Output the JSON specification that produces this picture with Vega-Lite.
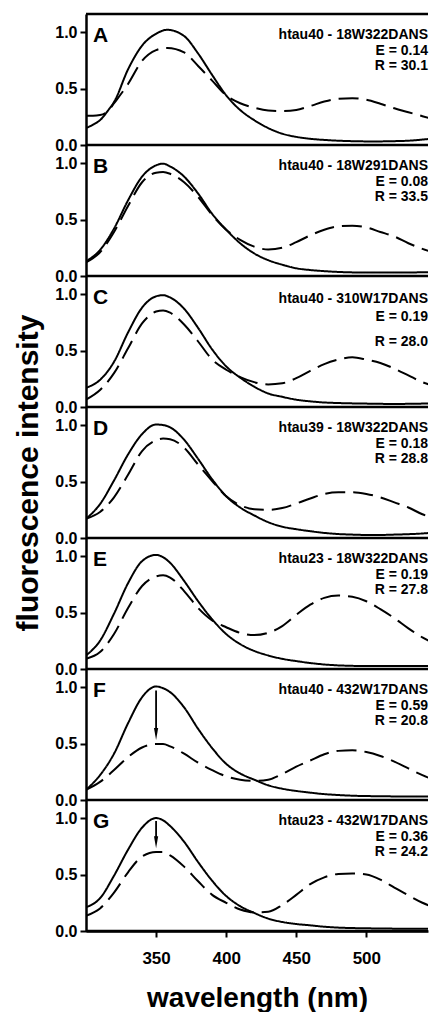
{
  "$schema": "https://vega.github.io/schema/vega-lite/v6.json",
  "padding": {"left": 13, "top": 12, "right": 0, "bottom": 0},
  "config": {
    "font": "Liberation Sans",
    "view": {"stroke": null},
    "axis": {"grid": false, "domainWidth": 2.5, "domainColor": "black", "tickColor": "black", "tickWidth": 2, "tickSize": 6, "labelFontSize": 16, "labelFontWeight": "bold", "labelColor": "black", "titleFontWeight": "bold", "titleColor": "black"},
    "axisY": {"labelPadding": 3, "titleFontSize": 30, "titlePadding": 11},
    "axisX": {"labelPadding": 13, "labelFontSize": 17, "titleFontSize": 28, "titlePadding": 18}
  },
  "data": {"values": [
    {"k":"a","p":"A","L":"A","t1":"htau40 - 18W322DANS","t2":"E = 0.14","t3":"R = 30.1"},
    {"k":"a","p":"B","L":"B","t1":"htau40 - 18W291DANS","t2":"E = 0.08","t3":"R = 33.5"},
    {"k":"a","p":"C","L":"C","t1":"htau40 - 310W17DANS","t2":"E = 0.19","t3":"R = 28.0"},
    {"k":"a","p":"D","L":"D","t1":"htau39 - 18W322DANS","t2":"E = 0.18","t3":"R = 28.8"},
    {"k":"a","p":"E","L":"E","t1":"htau23 - 18W322DANS","t2":"E = 0.19","t3":"R = 27.8"},
    {"k":"a","p":"F","L":"F","t1":"htau40 - 432W17DANS","t2":"E = 0.59","t3":"R = 20.8"},
    {"k":"a","p":"G","L":"G","t1":"htau23 - 432W17DANS","t2":"E = 0.36","t3":"R = 24.2"},
    {"k":"r","p":"F","x":350,"y1":0.97,"y2":0.585},
    {"k":"r","p":"G","x":350,"y1":0.975,"y2":0.785},

    {"k":"c","p":"A","x":300,"solid":0.15,"dashed":0.26},
    {"k":"c","p":"A","x":305,"solid":0.18,"dashed":0.26},
    {"k":"c","p":"A","x":310,"solid":0.22,"dashed":0.265},
    {"k":"c","p":"A","x":316,"solid":0.31,"dashed":0.305},
    {"k":"c","p":"A","x":320,"solid":0.38,"dashed":0.37},
    {"k":"c","p":"A","x":330,"solid":0.67,"dashed":0.54},
    {"k":"c","p":"A","x":340,"solid":0.88,"dashed":0.745},
    {"k":"c","p":"A","x":350,"solid":0.985,"dashed":0.84},
    {"k":"c","p":"A","x":358,"solid":1.02,"dashed":0.86},
    {"k":"c","p":"A","x":370,"solid":0.965,"dashed":0.82},
    {"k":"c","p":"A","x":380,"solid":0.81,"dashed":0.70},
    {"k":"c","p":"A","x":390,"solid":0.62,"dashed":0.57},
    {"k":"c","p":"A","x":400,"solid":0.44,"dashed":0.44},
    {"k":"c","p":"A","x":410,"solid":0.31,"dashed":0.37},
    {"k":"c","p":"A","x":420,"solid":0.22,"dashed":0.33},
    {"k":"c","p":"A","x":430,"solid":0.15,"dashed":0.305},
    {"k":"c","p":"A","x":440,"solid":0.10,"dashed":0.30},
    {"k":"c","p":"A","x":450,"solid":0.072,"dashed":0.31},
    {"k":"c","p":"A","x":460,"solid":0.055,"dashed":0.345},
    {"k":"c","p":"A","x":470,"solid":0.045,"dashed":0.385},
    {"k":"c","p":"A","x":480,"solid":0.038,"dashed":0.41},
    {"k":"c","p":"A","x":490,"solid":0.034,"dashed":0.415},
    {"k":"c","p":"A","x":500,"solid":0.032,"dashed":0.40},
    {"k":"c","p":"A","x":510,"solid":0.032,"dashed":0.365},
    {"k":"c","p":"A","x":520,"solid":0.034,"dashed":0.325},
    {"k":"c","p":"A","x":530,"solid":0.038,"dashed":0.29},
    {"k":"c","p":"A","x":540,"solid":0.048,"dashed":0.255},
    {"k":"c","p":"A","x":550,"solid":0.06,"dashed":0.22},

    {"k":"c","p":"B","x":300,"solid":0.13,"dashed":0.12},
    {"k":"c","p":"B","x":310,"solid":0.23,"dashed":0.21},
    {"k":"c","p":"B","x":320,"solid":0.42,"dashed":0.39},
    {"k":"c","p":"B","x":330,"solid":0.67,"dashed":0.62},
    {"k":"c","p":"B","x":340,"solid":0.88,"dashed":0.83},
    {"k":"c","p":"B","x":350,"solid":0.98,"dashed":0.915},
    {"k":"c","p":"B","x":355,"solid":0.995,"dashed":0.92},
    {"k":"c","p":"B","x":360,"solid":0.97,"dashed":0.905},
    {"k":"c","p":"B","x":370,"solid":0.88,"dashed":0.83},
    {"k":"c","p":"B","x":380,"solid":0.73,"dashed":0.70},
    {"k":"c","p":"B","x":390,"solid":0.55,"dashed":0.54},
    {"k":"c","p":"B","x":400,"solid":0.41,"dashed":0.41},
    {"k":"c","p":"B","x":410,"solid":0.29,"dashed":0.32},
    {"k":"c","p":"B","x":420,"solid":0.20,"dashed":0.26},
    {"k":"c","p":"B","x":430,"solid":0.14,"dashed":0.235},
    {"k":"c","p":"B","x":440,"solid":0.10,"dashed":0.25},
    {"k":"c","p":"B","x":450,"solid":0.068,"dashed":0.30},
    {"k":"c","p":"B","x":460,"solid":0.053,"dashed":0.36},
    {"k":"c","p":"B","x":470,"solid":0.043,"dashed":0.41},
    {"k":"c","p":"B","x":480,"solid":0.036,"dashed":0.44},
    {"k":"c","p":"B","x":490,"solid":0.032,"dashed":0.445},
    {"k":"c","p":"B","x":500,"solid":0.03,"dashed":0.43},
    {"k":"c","p":"B","x":510,"solid":0.03,"dashed":0.39},
    {"k":"c","p":"B","x":520,"solid":0.03,"dashed":0.35},
    {"k":"c","p":"B","x":530,"solid":0.031,"dashed":0.29},
    {"k":"c","p":"B","x":540,"solid":0.033,"dashed":0.24},
    {"k":"c","p":"B","x":550,"solid":0.036,"dashed":0.20},

    {"k":"c","p":"C","x":300,"solid":0.17,"dashed":0.065},
    {"k":"c","p":"C","x":310,"solid":0.24,"dashed":0.15},
    {"k":"c","p":"C","x":320,"solid":0.40,"dashed":0.30},
    {"k":"c","p":"C","x":330,"solid":0.66,"dashed":0.52},
    {"k":"c","p":"C","x":340,"solid":0.88,"dashed":0.74},
    {"k":"c","p":"C","x":350,"solid":0.98,"dashed":0.845},
    {"k":"c","p":"C","x":355,"solid":0.99,"dashed":0.855},
    {"k":"c","p":"C","x":360,"solid":0.97,"dashed":0.835},
    {"k":"c","p":"C","x":370,"solid":0.87,"dashed":0.73},
    {"k":"c","p":"C","x":380,"solid":0.70,"dashed":0.58},
    {"k":"c","p":"C","x":390,"solid":0.51,"dashed":0.42},
    {"k":"c","p":"C","x":400,"solid":0.36,"dashed":0.33},
    {"k":"c","p":"C","x":410,"solid":0.26,"dashed":0.265},
    {"k":"c","p":"C","x":420,"solid":0.18,"dashed":0.22},
    {"k":"c","p":"C","x":430,"solid":0.12,"dashed":0.20},
    {"k":"c","p":"C","x":440,"solid":0.09,"dashed":0.21},
    {"k":"c","p":"C","x":450,"solid":0.065,"dashed":0.255},
    {"k":"c","p":"C","x":460,"solid":0.05,"dashed":0.32},
    {"k":"c","p":"C","x":470,"solid":0.04,"dashed":0.38},
    {"k":"c","p":"C","x":480,"solid":0.035,"dashed":0.42},
    {"k":"c","p":"C","x":490,"solid":0.032,"dashed":0.44},
    {"k":"c","p":"C","x":500,"solid":0.03,"dashed":0.42},
    {"k":"c","p":"C","x":510,"solid":0.028,"dashed":0.39},
    {"k":"c","p":"C","x":520,"solid":0.027,"dashed":0.34},
    {"k":"c","p":"C","x":530,"solid":0.028,"dashed":0.28},
    {"k":"c","p":"C","x":540,"solid":0.03,"dashed":0.22},
    {"k":"c","p":"C","x":550,"solid":0.032,"dashed":0.18},

    {"k":"c","p":"D","x":300,"solid":0.17,"dashed":0.17},
    {"k":"c","p":"D","x":310,"solid":0.30,"dashed":0.23},
    {"k":"c","p":"D","x":320,"solid":0.51,"dashed":0.36},
    {"k":"c","p":"D","x":330,"solid":0.74,"dashed":0.56},
    {"k":"c","p":"D","x":340,"solid":0.92,"dashed":0.77},
    {"k":"c","p":"D","x":350,"solid":1.005,"dashed":0.865},
    {"k":"c","p":"D","x":355,"solid":1.0,"dashed":0.88},
    {"k":"c","p":"D","x":360,"solid":0.98,"dashed":0.875},
    {"k":"c","p":"D","x":370,"solid":0.87,"dashed":0.80},
    {"k":"c","p":"D","x":380,"solid":0.70,"dashed":0.65},
    {"k":"c","p":"D","x":390,"solid":0.52,"dashed":0.505},
    {"k":"c","p":"D","x":400,"solid":0.37,"dashed":0.37},
    {"k":"c","p":"D","x":410,"solid":0.27,"dashed":0.29},
    {"k":"c","p":"D","x":420,"solid":0.20,"dashed":0.255},
    {"k":"c","p":"D","x":430,"solid":0.14,"dashed":0.25},
    {"k":"c","p":"D","x":440,"solid":0.10,"dashed":0.265},
    {"k":"c","p":"D","x":450,"solid":0.078,"dashed":0.305},
    {"k":"c","p":"D","x":460,"solid":0.06,"dashed":0.35},
    {"k":"c","p":"D","x":470,"solid":0.045,"dashed":0.39},
    {"k":"c","p":"D","x":480,"solid":0.035,"dashed":0.405},
    {"k":"c","p":"D","x":490,"solid":0.03,"dashed":0.405},
    {"k":"c","p":"D","x":500,"solid":0.027,"dashed":0.39},
    {"k":"c","p":"D","x":510,"solid":0.027,"dashed":0.36},
    {"k":"c","p":"D","x":520,"solid":0.03,"dashed":0.315},
    {"k":"c","p":"D","x":530,"solid":0.034,"dashed":0.27},
    {"k":"c","p":"D","x":540,"solid":0.04,"dashed":0.21},
    {"k":"c","p":"D","x":550,"solid":0.05,"dashed":0.17},

    {"k":"c","p":"E","x":300,"solid":0.12,"dashed":0.09},
    {"k":"c","p":"E","x":310,"solid":0.25,"dashed":0.15},
    {"k":"c","p":"E","x":320,"solid":0.49,"dashed":0.31},
    {"k":"c","p":"E","x":330,"solid":0.76,"dashed":0.54},
    {"k":"c","p":"E","x":340,"solid":0.955,"dashed":0.735},
    {"k":"c","p":"E","x":350,"solid":1.01,"dashed":0.82},
    {"k":"c","p":"E","x":355,"solid":0.99,"dashed":0.83},
    {"k":"c","p":"E","x":360,"solid":0.94,"dashed":0.81},
    {"k":"c","p":"E","x":370,"solid":0.78,"dashed":0.69},
    {"k":"c","p":"E","x":380,"solid":0.60,"dashed":0.54},
    {"k":"c","p":"E","x":390,"solid":0.44,"dashed":0.43},
    {"k":"c","p":"E","x":400,"solid":0.31,"dashed":0.37},
    {"k":"c","p":"E","x":410,"solid":0.22,"dashed":0.32},
    {"k":"c","p":"E","x":420,"solid":0.16,"dashed":0.30},
    {"k":"c","p":"E","x":430,"solid":0.12,"dashed":0.32},
    {"k":"c","p":"E","x":440,"solid":0.09,"dashed":0.38},
    {"k":"c","p":"E","x":450,"solid":0.07,"dashed":0.48},
    {"k":"c","p":"E","x":460,"solid":0.053,"dashed":0.57},
    {"k":"c","p":"E","x":470,"solid":0.04,"dashed":0.63},
    {"k":"c","p":"E","x":480,"solid":0.032,"dashed":0.65},
    {"k":"c","p":"E","x":490,"solid":0.028,"dashed":0.64},
    {"k":"c","p":"E","x":500,"solid":0.026,"dashed":0.60},
    {"k":"c","p":"E","x":510,"solid":0.026,"dashed":0.53},
    {"k":"c","p":"E","x":520,"solid":0.026,"dashed":0.45},
    {"k":"c","p":"E","x":530,"solid":0.026,"dashed":0.36},
    {"k":"c","p":"E","x":540,"solid":0.026,"dashed":0.28},
    {"k":"c","p":"E","x":550,"solid":0.026,"dashed":0.22},

    {"k":"c","p":"F","x":300,"solid":0.09,"dashed":0.09},
    {"k":"c","p":"F","x":310,"solid":0.22,"dashed":0.16},
    {"k":"c","p":"F","x":320,"solid":0.41,"dashed":0.265},
    {"k":"c","p":"F","x":330,"solid":0.68,"dashed":0.38},
    {"k":"c","p":"F","x":340,"solid":0.91,"dashed":0.465},
    {"k":"c","p":"F","x":350,"solid":1.005,"dashed":0.495},
    {"k":"c","p":"F","x":355,"solid":0.99,"dashed":0.495},
    {"k":"c","p":"F","x":360,"solid":0.955,"dashed":0.475},
    {"k":"c","p":"F","x":370,"solid":0.82,"dashed":0.41},
    {"k":"c","p":"F","x":380,"solid":0.63,"dashed":0.33},
    {"k":"c","p":"F","x":390,"solid":0.46,"dashed":0.265},
    {"k":"c","p":"F","x":400,"solid":0.32,"dashed":0.21},
    {"k":"c","p":"F","x":410,"solid":0.235,"dashed":0.18},
    {"k":"c","p":"F","x":420,"solid":0.18,"dashed":0.17},
    {"k":"c","p":"F","x":430,"solid":0.13,"dashed":0.18},
    {"k":"c","p":"F","x":440,"solid":0.10,"dashed":0.23},
    {"k":"c","p":"F","x":450,"solid":0.08,"dashed":0.295},
    {"k":"c","p":"F","x":460,"solid":0.065,"dashed":0.35},
    {"k":"c","p":"F","x":470,"solid":0.052,"dashed":0.405},
    {"k":"c","p":"F","x":480,"solid":0.044,"dashed":0.435},
    {"k":"c","p":"F","x":490,"solid":0.038,"dashed":0.44},
    {"k":"c","p":"F","x":500,"solid":0.035,"dashed":0.425},
    {"k":"c","p":"F","x":510,"solid":0.033,"dashed":0.39},
    {"k":"c","p":"F","x":520,"solid":0.032,"dashed":0.34},
    {"k":"c","p":"F","x":530,"solid":0.032,"dashed":0.28},
    {"k":"c","p":"F","x":540,"solid":0.032,"dashed":0.22},
    {"k":"c","p":"F","x":550,"solid":0.032,"dashed":0.17},

    {"k":"c","p":"G","x":300,"solid":0.21,"dashed":0.135},
    {"k":"c","p":"G","x":310,"solid":0.29,"dashed":0.20},
    {"k":"c","p":"G","x":320,"solid":0.49,"dashed":0.34},
    {"k":"c","p":"G","x":330,"solid":0.72,"dashed":0.52},
    {"k":"c","p":"G","x":340,"solid":0.915,"dashed":0.66},
    {"k":"c","p":"G","x":350,"solid":1.0,"dashed":0.70},
    {"k":"c","p":"G","x":355,"solid":0.98,"dashed":0.70},
    {"k":"c","p":"G","x":360,"solid":0.93,"dashed":0.67},
    {"k":"c","p":"G","x":370,"solid":0.79,"dashed":0.57},
    {"k":"c","p":"G","x":380,"solid":0.61,"dashed":0.44},
    {"k":"c","p":"G","x":390,"solid":0.445,"dashed":0.32},
    {"k":"c","p":"G","x":400,"solid":0.31,"dashed":0.25},
    {"k":"c","p":"G","x":410,"solid":0.22,"dashed":0.19},
    {"k":"c","p":"G","x":420,"solid":0.16,"dashed":0.165},
    {"k":"c","p":"G","x":430,"solid":0.11,"dashed":0.17},
    {"k":"c","p":"G","x":440,"solid":0.08,"dashed":0.23},
    {"k":"c","p":"G","x":450,"solid":0.062,"dashed":0.32},
    {"k":"c","p":"G","x":460,"solid":0.05,"dashed":0.415},
    {"k":"c","p":"G","x":470,"solid":0.038,"dashed":0.475},
    {"k":"c","p":"G","x":480,"solid":0.03,"dashed":0.505},
    {"k":"c","p":"G","x":490,"solid":0.026,"dashed":0.51},
    {"k":"c","p":"G","x":500,"solid":0.024,"dashed":0.50},
    {"k":"c","p":"G","x":510,"solid":0.022,"dashed":0.455},
    {"k":"c","p":"G","x":520,"solid":0.021,"dashed":0.385},
    {"k":"c","p":"G","x":530,"solid":0.021,"dashed":0.315},
    {"k":"c","p":"G","x":540,"solid":0.021,"dashed":0.25},
    {"k":"c","p":"G","x":550,"solid":0.021,"dashed":0.20}
  ]},
  "spacing": 0,
  "bounds": "flush",
  "vconcat": [
    {
      "width": 342, "height": 131,
      "transform": [{"filter": "datum.p === 'A'"}],
      "encoding": {
        "x": {"type": "quantitative", "scale": {"domain": [300, 544], "nice": false, "zero": false}, "axis": null},
        "y": {"type": "quantitative", "scale": {"domain": [0, 1.16], "nice": false}, "axis": {"values": [0, 0.5, 1], "format": ".1f", "title": null}}
      },
      "layer": [
        {"transform": [{"filter": "datum.k === 'c'"}, {"fold": ["solid", "dashed"], "as": ["s", "v"]}], "mark": {"type": "line", "interpolate": "monotone", "clip": true, "color": "black", "strokeWidth": 2}, "encoding": {"x": {"field": "x"}, "y": {"field": "v"}, "strokeDash": {"field": "s", "type": "nominal", "scale": {"domain": ["solid", "dashed"], "range": [[1, 0], [20, 8]]}, "legend": null}}},
        {"transform": [{"filter": "datum.k === 'a'"}], "mark": {"type": "rule", "color": "black", "strokeWidth": 2.5}, "encoding": {"y": {"datum": 0}}},
        {"transform": [{"filter": "datum.k === 'a'"}], "mark": {"type": "rule", "color": "black", "strokeWidth": 2.5}, "encoding": {"y": {"datum": 1.16}}},
        {"transform": [{"filter": "datum.k === 'a'"}], "mark": {"type": "text", "align": "left", "fontSize": 21, "fontWeight": "bold", "color": "black"}, "encoding": {"x": {"datum": 305}, "y": {"datum": 0.965}, "text": {"field": "L"}}},
        {"transform": [{"filter": "datum.k === 'a'"}], "mark": {"type": "text", "align": "right", "fontSize": 14, "fontWeight": "bold", "color": "black"}, "encoding": {"x": {"datum": 544}, "y": {"datum": 0.97}, "text": {"field": "t1"}}},
        {"transform": [{"filter": "datum.k === 'a'"}], "mark": {"type": "text", "align": "right", "fontSize": 14, "fontWeight": "bold", "color": "black"}, "encoding": {"x": {"datum": 544}, "y": {"datum": 0.83}, "text": {"field": "t2"}}},
        {"transform": [{"filter": "datum.k === 'a'"}], "mark": {"type": "text", "align": "right", "fontSize": 14, "fontWeight": "bold", "color": "black"}, "encoding": {"x": {"datum": 544}, "y": {"datum": 0.70}, "text": {"field": "t3"}}}
      ]
    },
    {
      "width": 342, "height": 131,
      "transform": [{"filter": "datum.p === 'B'"}],
      "encoding": {
        "x": {"type": "quantitative", "scale": {"domain": [300, 544], "nice": false, "zero": false}, "axis": null},
        "y": {"type": "quantitative", "scale": {"domain": [0, 1.16], "nice": false}, "axis": {"values": [0, 0.5, 1], "format": ".1f", "title": null}}
      },
      "layer": [
        {"transform": [{"filter": "datum.k === 'c'"}, {"fold": ["solid", "dashed"], "as": ["s", "v"]}], "mark": {"type": "line", "interpolate": "monotone", "clip": true, "color": "black", "strokeWidth": 2}, "encoding": {"x": {"field": "x"}, "y": {"field": "v"}, "strokeDash": {"field": "s", "type": "nominal", "scale": {"domain": ["solid", "dashed"], "range": [[1, 0], [20, 8]]}, "legend": null}}},
        {"transform": [{"filter": "datum.k === 'a'"}], "mark": {"type": "rule", "color": "black", "strokeWidth": 2.5}, "encoding": {"y": {"datum": 0}}},
        {"transform": [{"filter": "datum.k === 'a'"}], "mark": {"type": "text", "align": "left", "fontSize": 21, "fontWeight": "bold", "color": "black"}, "encoding": {"x": {"datum": 305}, "y": {"datum": 0.965}, "text": {"field": "L"}}},
        {"transform": [{"filter": "datum.k === 'a'"}], "mark": {"type": "text", "align": "right", "fontSize": 14, "fontWeight": "bold", "color": "black"}, "encoding": {"x": {"datum": 544}, "y": {"datum": 0.97}, "text": {"field": "t1"}}},
        {"transform": [{"filter": "datum.k === 'a'"}], "mark": {"type": "text", "align": "right", "fontSize": 14, "fontWeight": "bold", "color": "black"}, "encoding": {"x": {"datum": 544}, "y": {"datum": 0.83}, "text": {"field": "t2"}}},
        {"transform": [{"filter": "datum.k === 'a'"}], "mark": {"type": "text", "align": "right", "fontSize": 14, "fontWeight": "bold", "color": "black"}, "encoding": {"x": {"datum": 544}, "y": {"datum": 0.70}, "text": {"field": "t3"}}}
      ]
    },
    {
      "width": 342, "height": 131,
      "transform": [{"filter": "datum.p === 'C'"}],
      "encoding": {
        "x": {"type": "quantitative", "scale": {"domain": [300, 544], "nice": false, "zero": false}, "axis": null},
        "y": {"type": "quantitative", "scale": {"domain": [0, 1.16], "nice": false}, "axis": {"values": [0, 0.5, 1], "format": ".1f", "title": null}}
      },
      "layer": [
        {"transform": [{"filter": "datum.k === 'c'"}, {"fold": ["solid", "dashed"], "as": ["s", "v"]}], "mark": {"type": "line", "interpolate": "monotone", "clip": true, "color": "black", "strokeWidth": 2}, "encoding": {"x": {"field": "x"}, "y": {"field": "v"}, "strokeDash": {"field": "s", "type": "nominal", "scale": {"domain": ["solid", "dashed"], "range": [[1, 0], [20, 8]]}, "legend": null}}},
        {"transform": [{"filter": "datum.k === 'a'"}], "mark": {"type": "rule", "color": "black", "strokeWidth": 2.5}, "encoding": {"y": {"datum": 0}}},
        {"transform": [{"filter": "datum.k === 'a'"}], "mark": {"type": "text", "align": "left", "fontSize": 21, "fontWeight": "bold", "color": "black"}, "encoding": {"x": {"datum": 305}, "y": {"datum": 0.965}, "text": {"field": "L"}}},
        {"transform": [{"filter": "datum.k === 'a'"}], "mark": {"type": "text", "align": "right", "fontSize": 14, "fontWeight": "bold", "color": "black"}, "encoding": {"x": {"datum": 544}, "y": {"datum": 0.96}, "text": {"field": "t1"}}},
        {"transform": [{"filter": "datum.k === 'a'"}], "mark": {"type": "text", "align": "right", "fontSize": 14, "fontWeight": "bold", "color": "black"}, "encoding": {"x": {"datum": 544}, "y": {"datum": 0.80}, "text": {"field": "t2"}}},
        {"transform": [{"filter": "datum.k === 'a'"}], "mark": {"type": "text", "align": "right", "fontSize": 14, "fontWeight": "bold", "color": "black"}, "encoding": {"x": {"datum": 544}, "y": {"datum": 0.58}, "text": {"field": "t3"}}}
      ]
    },
    {
      "width": 342, "height": 131,
      "transform": [{"filter": "datum.p === 'D'"}],
      "encoding": {
        "x": {"type": "quantitative", "scale": {"domain": [300, 544], "nice": false, "zero": false}, "axis": null},
        "y": {"type": "quantitative", "title": "fluorescence intensity", "scale": {"domain": [0, 1.16], "nice": false}, "axis": {"values": [0, 0.5, 1], "format": ".1f"}}
      },
      "layer": [
        {"transform": [{"filter": "datum.k === 'c'"}, {"fold": ["solid", "dashed"], "as": ["s", "v"]}], "mark": {"type": "line", "interpolate": "monotone", "clip": true, "color": "black", "strokeWidth": 2}, "encoding": {"x": {"field": "x"}, "y": {"field": "v", "title": "fluorescence intensity"}, "strokeDash": {"field": "s", "type": "nominal", "scale": {"domain": ["solid", "dashed"], "range": [[1, 0], [20, 8]]}, "legend": null}}},
        {"transform": [{"filter": "datum.k === 'a'"}], "mark": {"type": "rule", "color": "black", "strokeWidth": 2.5}, "encoding": {"y": {"datum": 0}}},
        {"transform": [{"filter": "datum.k === 'a'"}], "mark": {"type": "text", "align": "left", "fontSize": 21, "fontWeight": "bold", "color": "black"}, "encoding": {"x": {"datum": 305}, "y": {"datum": 0.965}, "text": {"field": "L"}}},
        {"transform": [{"filter": "datum.k === 'a'"}], "mark": {"type": "text", "align": "right", "fontSize": 14, "fontWeight": "bold", "color": "black"}, "encoding": {"x": {"datum": 544}, "y": {"datum": 0.97}, "text": {"field": "t1"}}},
        {"transform": [{"filter": "datum.k === 'a'"}], "mark": {"type": "text", "align": "right", "fontSize": 14, "fontWeight": "bold", "color": "black"}, "encoding": {"x": {"datum": 544}, "y": {"datum": 0.83}, "text": {"field": "t2"}}},
        {"transform": [{"filter": "datum.k === 'a'"}], "mark": {"type": "text", "align": "right", "fontSize": 14, "fontWeight": "bold", "color": "black"}, "encoding": {"x": {"datum": 544}, "y": {"datum": 0.70}, "text": {"field": "t3"}}}
      ]
    },
    {
      "width": 342, "height": 131,
      "transform": [{"filter": "datum.p === 'E'"}],
      "encoding": {
        "x": {"type": "quantitative", "scale": {"domain": [300, 544], "nice": false, "zero": false}, "axis": null},
        "y": {"type": "quantitative", "scale": {"domain": [0, 1.16], "nice": false}, "axis": {"values": [0, 0.5, 1], "format": ".1f", "title": null}}
      },
      "layer": [
        {"transform": [{"filter": "datum.k === 'c'"}, {"fold": ["solid", "dashed"], "as": ["s", "v"]}], "mark": {"type": "line", "interpolate": "monotone", "clip": true, "color": "black", "strokeWidth": 2}, "encoding": {"x": {"field": "x"}, "y": {"field": "v"}, "strokeDash": {"field": "s", "type": "nominal", "scale": {"domain": ["solid", "dashed"], "range": [[1, 0], [20, 8]]}, "legend": null}}},
        {"transform": [{"filter": "datum.k === 'a'"}], "mark": {"type": "rule", "color": "black", "strokeWidth": 2.5}, "encoding": {"y": {"datum": 0}}},
        {"transform": [{"filter": "datum.k === 'a'"}], "mark": {"type": "text", "align": "left", "fontSize": 21, "fontWeight": "bold", "color": "black"}, "encoding": {"x": {"datum": 305}, "y": {"datum": 0.965}, "text": {"field": "L"}}},
        {"transform": [{"filter": "datum.k === 'a'"}], "mark": {"type": "text", "align": "right", "fontSize": 14, "fontWeight": "bold", "color": "black"}, "encoding": {"x": {"datum": 544}, "y": {"datum": 0.97}, "text": {"field": "t1"}}},
        {"transform": [{"filter": "datum.k === 'a'"}], "mark": {"type": "text", "align": "right", "fontSize": 14, "fontWeight": "bold", "color": "black"}, "encoding": {"x": {"datum": 544}, "y": {"datum": 0.83}, "text": {"field": "t2"}}},
        {"transform": [{"filter": "datum.k === 'a'"}], "mark": {"type": "text", "align": "right", "fontSize": 14, "fontWeight": "bold", "color": "black"}, "encoding": {"x": {"datum": 544}, "y": {"datum": 0.70}, "text": {"field": "t3"}}}
      ]
    },
    {
      "width": 342, "height": 131,
      "transform": [{"filter": "datum.p === 'F'"}],
      "encoding": {
        "x": {"type": "quantitative", "scale": {"domain": [300, 544], "nice": false, "zero": false}, "axis": null},
        "y": {"type": "quantitative", "scale": {"domain": [0, 1.16], "nice": false}, "axis": {"values": [0, 0.5, 1], "format": ".1f", "title": null}}
      },
      "layer": [
        {"transform": [{"filter": "datum.k === 'c'"}, {"fold": ["solid", "dashed"], "as": ["s", "v"]}], "mark": {"type": "line", "interpolate": "monotone", "clip": true, "color": "black", "strokeWidth": 2}, "encoding": {"x": {"field": "x"}, "y": {"field": "v"}, "strokeDash": {"field": "s", "type": "nominal", "scale": {"domain": ["solid", "dashed"], "range": [[1, 0], [20, 8]]}, "legend": null}}},
        {"transform": [{"filter": "datum.k === 'a'"}], "mark": {"type": "rule", "color": "black", "strokeWidth": 2.5}, "encoding": {"y": {"datum": 0}}},
        {"transform": [{"filter": "datum.k === 'r'"}], "mark": {"type": "rule", "color": "black", "strokeWidth": 1.8}, "encoding": {"x": {"field": "x"}, "y": {"field": "y1"}, "y2": {"field": "y2"}}},
        {"transform": [{"filter": "datum.k === 'r'"}], "mark": {"type": "point", "filled": true, "color": "black", "opacity": 1, "size": 144, "shape": "M-0.35,-1L0,1L0.35,-1Z"}, "encoding": {"x": {"field": "x"}, "y": {"field": "y2"}}},
        {"transform": [{"filter": "datum.k === 'a'"}], "mark": {"type": "text", "align": "left", "fontSize": 21, "fontWeight": "bold", "color": "black"}, "encoding": {"x": {"datum": 305}, "y": {"datum": 0.965}, "text": {"field": "L"}}},
        {"transform": [{"filter": "datum.k === 'a'"}], "mark": {"type": "text", "align": "right", "fontSize": 14, "fontWeight": "bold", "color": "black"}, "encoding": {"x": {"datum": 544}, "y": {"datum": 0.97}, "text": {"field": "t1"}}},
        {"transform": [{"filter": "datum.k === 'a'"}], "mark": {"type": "text", "align": "right", "fontSize": 14, "fontWeight": "bold", "color": "black"}, "encoding": {"x": {"datum": 544}, "y": {"datum": 0.83}, "text": {"field": "t2"}}},
        {"transform": [{"filter": "datum.k === 'a'"}], "mark": {"type": "text", "align": "right", "fontSize": 14, "fontWeight": "bold", "color": "black"}, "encoding": {"x": {"datum": 544}, "y": {"datum": 0.70}, "text": {"field": "t3"}}}
      ]
    },
    {
      "width": 342, "height": 131,
      "transform": [{"filter": "datum.p === 'G'"}],
      "encoding": {
        "x": {"type": "quantitative", "title": "wavelength (nm)", "scale": {"domain": [300, 544], "nice": false, "zero": false}, "axis": {"values": [350, 400, 450, 500]}},
        "y": {"type": "quantitative", "scale": {"domain": [0, 1.16], "nice": false}, "axis": {"values": [0, 0.5, 1], "format": ".1f", "title": null}}
      },
      "layer": [
        {"transform": [{"filter": "datum.k === 'c'"}, {"fold": ["solid", "dashed"], "as": ["s", "v"]}], "mark": {"type": "line", "interpolate": "monotone", "clip": true, "color": "black", "strokeWidth": 2}, "encoding": {"x": {"field": "x", "title": "wavelength (nm)"}, "y": {"field": "v"}, "strokeDash": {"field": "s", "type": "nominal", "scale": {"domain": ["solid", "dashed"], "range": [[1, 0], [20, 8]]}, "legend": null}}},
        {"transform": [{"filter": "datum.k === 'a'"}], "mark": {"type": "rule", "color": "black", "strokeWidth": 2.5}, "encoding": {"y": {"datum": 0}}},
        {"transform": [{"filter": "datum.k === 'r'"}], "mark": {"type": "rule", "color": "black", "strokeWidth": 1.8}, "encoding": {"x": {"field": "x", "title": "wavelength (nm)"}, "y": {"field": "y1"}, "y2": {"field": "y2"}}},
        {"transform": [{"filter": "datum.k === 'r'"}], "mark": {"type": "point", "filled": true, "color": "black", "opacity": 1, "size": 144, "shape": "M-0.35,-1L0,1L0.35,-1Z"}, "encoding": {"x": {"field": "x", "title": "wavelength (nm)"}, "y": {"field": "y2"}}},
        {"transform": [{"filter": "datum.k === 'a'"}], "mark": {"type": "text", "align": "left", "fontSize": 21, "fontWeight": "bold", "color": "black"}, "encoding": {"x": {"datum": 305}, "y": {"datum": 0.965}, "text": {"field": "L"}}},
        {"transform": [{"filter": "datum.k === 'a'"}], "mark": {"type": "text", "align": "right", "fontSize": 14, "fontWeight": "bold", "color": "black"}, "encoding": {"x": {"datum": 544}, "y": {"datum": 0.97}, "text": {"field": "t1"}}},
        {"transform": [{"filter": "datum.k === 'a'"}], "mark": {"type": "text", "align": "right", "fontSize": 14, "fontWeight": "bold", "color": "black"}, "encoding": {"x": {"datum": 544}, "y": {"datum": 0.83}, "text": {"field": "t2"}}},
        {"transform": [{"filter": "datum.k === 'a'"}], "mark": {"type": "text", "align": "right", "fontSize": 14, "fontWeight": "bold", "color": "black"}, "encoding": {"x": {"datum": 544}, "y": {"datum": 0.70}, "text": {"field": "t3"}}}
      ]
    }
  ]
}
